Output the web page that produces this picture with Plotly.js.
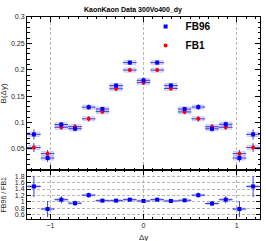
<!DOCTYPE html>
<html><head><meta charset="utf-8">
<script src="https://cdn.plot.ly/plotly-3.0.1.min.js"></script>
<style>html,body{margin:0;padding:0;background:#fff}#plot{width:266px;height:241px}</style>
</head><body><div id="plot"></div>
<script>
var binCenters = [-1.176,-1.029,-0.882,-0.735,-0.588,-0.441,-0.294,-0.147,0,0.147,0.294,0.441,0.588,0.735,0.882,1.029,1.176];
var binHalfWidth = 0.0735;
var fb96 = [0.0775,0.0327,0.0962,0.0883,0.1290,0.1256,0.1700,0.2135,0.1800,0.2135,0.1703,0.1256,0.1293,0.0880,0.0967,0.0327,0.0775];
var fb96Err = [0.0095,0.0075,0.005,0.005,0.005,0.004,0.004,0.004,0.004,0.004,0.004,0.004,0.005,0.005,0.005,0.0075,0.0095];
var fb1 = [0.0525,0.0410,0.0910,0.0922,0.1070,0.1206,0.1640,0.1994,0.1756,0.1994,0.1645,0.1200,0.1070,0.0920,0.0910,0.0410,0.0525];
var fb1Err = [0.0085,0.007,0.005,0.005,0.005,0.004,0.004,0.004,0.004,0.004,0.004,0.004,0.005,0.005,0.005,0.007,0.0085];
var ratio = [1.48,0.78,1.07,0.96,1.21,1.04,1.04,1.07,1.03,1.07,1.03,1.05,1.21,0.95,1.07,0.78,1.48];
var ratioErr = [0.33,0.25,0.11,0.08,0.08,0.04,0.03,0.03,0.03,0.03,0.03,0.04,0.08,0.08,0.11,0.25,0.33];
var sysTop = 0.004, sysRatio = 0.03;

var boxColor = 'rgba(170,170,235,0.3)', boxLine = 'rgba(140,140,225,0.6)';
var errColor = 'rgb(60,60,225)';
function boxes(vals, s, xa, ya){
  return {type:'bar', x:binCenters, y:vals.map(function(){return 2*s;}), base:vals.map(function(v){return v-s;}),
    width:binHalfWidth*1.7, marker:{color:boxColor, line:{color:boxLine,width:0.6}}, xaxis:xa, yaxis:ya,
    showlegend:false, hoverinfo:'skip'};
}
function pts(vals, errs, name, color, symbol, xa, ya, show){
  return {type:'scatter', mode:'markers', x:binCenters, y:vals, name:name, xaxis:xa, yaxis:ya, showlegend:show,
    marker:{color:color, symbol:symbol, size:4},
    error_x:{type:'constant', value:binHalfWidth, color:errColor, thickness:1, width:0},
    error_y:{type:'data', array:errs, color:errColor, thickness:1, width:0}};
}
var fb1Trace = pts(fb1, fb1Err, 'FB1', '#ff0000', 'circle', 'x', 'y', true);
var fb96Trace = pts(fb96, fb96Err, 'FB96', '#0000ff', 'square', 'x', 'y', true);
fb96Trace.legendrank = 1; fb1Trace.legendrank = 2;
var data = [
  boxes(fb1, sysTop, 'x', 'y'),
  boxes(fb96, sysTop, 'x', 'y'),
  fb1Trace,
  fb96Trace,
  boxes(ratio, sysRatio, 'x2', 'y2'),
  pts(ratio, ratioErr, 'ratio', '#0000ff', 'square', 'x2', 'y2', false)
];

var tickFont = {family:'Liberation Sans, Arial, sans-serif', size:7, color:'#222'};
var xcommon = {range:[-1.25,1.25], tickvals:[-1,0,1], showgrid:true, gridcolor:'#999', griddash:'3px,2px', gridwidth:0.7,
  zeroline:false, showline:true, linecolor:'#000', linewidth:1, mirror:'ticks', ticks:'inside', ticklen:5, tickcolor:'#000',
  minor:{dtick:0.1, ticks:'inside', ticklen:2, tickcolor:'#000', showgrid:false}, tickfont:tickFont};
var layout = {
  width:266, height:241, margin:{l:27, r:6, t:17, b:22},
  paper_bgcolor:'#fff', plot_bgcolor:'#fff', barmode:'overlay', bargap:0,
  font:{family:'Liberation Sans, Arial, sans-serif', color:'#000'},
  title:{text:'<b>KaonKaon Data 300Vo400_dy</b>', font:{size:7, color:'#000'}, x:0.5, xanchor:'center', y:0.962, yanchor:'middle'},
  xaxis: Object.assign({}, xcommon, {anchor:'y', showticklabels:false}),
  xaxis2: Object.assign({}, xcommon, {anchor:'y2', matches:'x'}),
  yaxis:{domain:[0.2426,1], range:[0.01,0.3], tickvals:[0.05,0.1,0.15,0.2,0.25,0.3], ticktext:['0.05','0.1','0.15','0.2','0.25','0.3'],
    showgrid:false, zeroline:false, showline:true, linecolor:'#000', linewidth:1, mirror:'ticks', ticks:'inside', ticklen:5, tickcolor:'#000',
    minor:{dtick:0.01, ticks:'inside', ticklen:2.5, tickcolor:'#000', showgrid:false}, tickfont:tickFont},
  yaxis2:{domain:[0,0.2426], range:[0.47,1.99], tickvals:[0.6,0.8,1,1.2,1.4,1.6,1.8], ticktext:['0.6','0.8','1','1.2','1.4','1.6','1.8'],
    showgrid:true, gridcolor:'#999', griddash:'3px,2px', gridwidth:0.7,
    zeroline:false, showline:true, linecolor:'#000', linewidth:1, mirror:'ticks', ticks:'inside', ticklen:4, tickcolor:'#000', tickfont:tickFont},
  legend:{x:0.509, y:1.025, xanchor:'left', yanchor:'top', bgcolor:'rgba(0,0,0,0)', font:{size:10, color:'#000', family:'Liberation Sans, Arial, sans-serif', weight:'bold'},
    tracegroupgap:0, itemwidth:30},
  annotations:[
    {text:'B(Δy)', xref:'paper', yref:'paper', x:-0.1, y:0.62, textangle:-90, showarrow:false, font:{size:8, color:'#222'}, xanchor:'center', yanchor:'middle'},
    {text:'FB96 / FB1', xref:'paper', yref:'paper', x:-0.1, y:0.12, textangle:-90, showarrow:false, font:{size:7, color:'#222'}, xanchor:'center', yanchor:'middle'},
    {text:'Δy', xref:'paper', yref:'paper', x:0.5, y:-0.06, showarrow:false, font:{size:8, color:'#222'}, xanchor:'center', yanchor:'top'}
  ]
};
Plotly.newPlot('plot', data, layout, {displayModeBar:false, staticPlot:true});
</script></body></html>
